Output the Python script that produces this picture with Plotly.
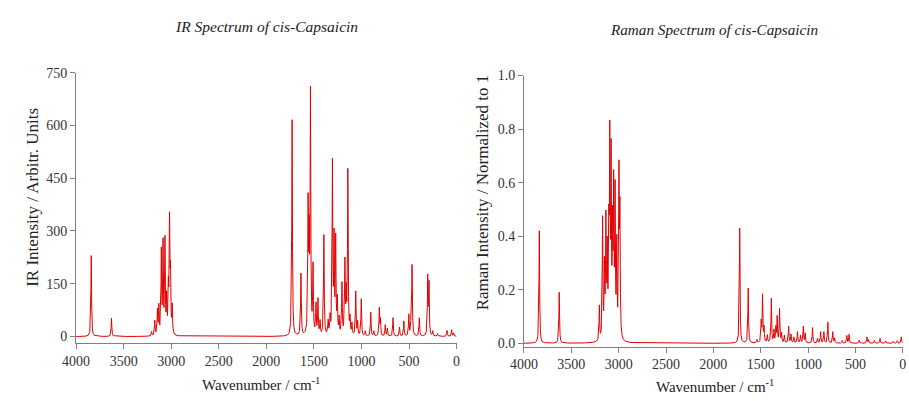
import numpy as np
import plotly.graph_objects as go

# ---- data (peak positions in cm-1, peak heights) ----
ir_pos = [3841, 3628, 3207, 3173, 3145, 3130, 3104, 3086, 3066, 3048, 3030, 3018, 3008, 2990,
          1729, 1636, 1561, 1550, 1536, 1509, 1478, 1457, 1435, 1395, 1350, 1330, 1305, 1288,
          1271, 1254, 1235, 1205, 1174, 1160, 1143, 1120, 1100, 1060, 1040, 1002, 960, 902,
          870, 812, 800, 750, 727, 668, 600, 554, 502, 480, 468, 392, 303, 290, 250, 200,
          100, 52, 30]
ir_int = [230, 52, 12, 42, 70, 80, 235, 255, 265, 100, 125, 312, 170, 78,
          615, 176, 360, 250, 678, 190, 85, 100, 38, 285, 38, 48, 485, 265,
          265, 95, 45, 145, 205, 110, 465, 45, 32, 125, 38, 105, 14, 68,
          14, 78, 45, 32, 22, 53, 26, 43, 60, 35, 200, 52, 165, 145, 14, 8,
          17, 19, 9]

raman_pos = [3838, 3628, 3204, 3170, 3150, 3135, 3121, 3105, 3094, 3080, 3065, 3053, 3038,
             3020, 2997, 2987, 1722, 1632, 1540, 1495, 1481, 1465, 1430, 1388, 1360, 1340,
             1326, 1301, 1280, 1250, 1205, 1180, 1150, 1112, 1080, 1050, 1030, 953, 900, 867,
             833, 791, 739, 720, 640, 590, 567, 460, 378, 360, 300, 240, 180, 100, 60, 15]
raman_int = [0.42, 0.19, 0.13, 0.45, 0.26, 0.43, 0.31, 0.38, 0.71, 0.65, 0.38, 0.54, 0.53,
             0.34, 0.60, 0.45, 0.43, 0.205, 0.012, 0.075, 0.175, 0.055, 0.028, 0.165, 0.045, 0.055,
             0.095, 0.125, 0.035, 0.028, 0.062, 0.032, 0.022, 0.042, 0.028, 0.062, 0.036, 0.058, 0.018, 0.042,
             0.042, 0.078, 0.042, 0.018, 0.01, 0.028, 0.033, 0.011, 0.023, 0.013, 0.011, 0.018, 0.009,
             0.007, 0.009, 0.024]

x_ticks = [4000, 3500, 3000, 2500, 2000, 1500, 1000, 500, 0]
ir_ticks = [0, 150, 300, 450, 600, 750]
raman_ticks = [0.0, 0.2, 0.4, 0.6, 0.8, 1.0]

HWHM = 4.0  # Lorentzian half-width used for broadening the stick spectrum


def broaden(pos, inten, grid):
    p = np.asarray(pos, float)[:, None]
    h = np.asarray(inten, float)[:, None]
    return (h * HWHM**2 / ((grid[None, :] - p) ** 2 + HWHM**2)).sum(axis=0)


grid = np.arange(0, 4000.01, 0.5)
ir_y = broaden(ir_pos, ir_int, grid)
raman_y = broaden(raman_pos, raman_int, grid)

RED = "#e00000"
FONT = "Liberation Serif, Times New Roman, serif"

fig = go.Figure()
fig.add_trace(go.Scatter(x=grid, y=ir_y, mode="lines", line=dict(color=RED, width=1),
                         xaxis="x", yaxis="y", showlegend=False, hoverinfo="skip"))
fig.add_trace(go.Scatter(x=grid, y=raman_y, mode="lines", line=dict(color=RED, width=1),
                         xaxis="x2", yaxis="y2", showlegend=False, hoverinfo="skip"))

W, H = 909, 401


def px_x(p):
    return p / W


def px_y(p):
    return 1 - p / H


axis_common = dict(showgrid=False, zeroline=False, showline=True, linecolor="#808080",
                   linewidth=1, ticks="outside", ticklen=5, tickcolor="#808080",
                   tickfont=dict(family=FONT, size=14, color="#333333"))

fig.update_layout(
    width=W, height=H, margin=dict(l=0, r=0, t=0, b=0),
    paper_bgcolor="white", plot_bgcolor="white",
    xaxis=dict(domain=[px_x(63.3), px_x(451)], range=[4000, 0], anchor="y",
               tickvals=x_ticks, ticktext=[str(v) for v in x_ticks], **axis_common),
    yaxis=dict(domain=[px_y(346.7), px_y(67.7)], range=[-19.3, 750], anchor="x",
               tickvals=ir_ticks, ticktext=[str(v) for v in ir_ticks], **axis_common),
    xaxis2=dict(domain=[px_x(519.7), px_x(905.7)], range=[4000, 0], anchor="y2",
                tickvals=x_ticks, ticktext=[str(v) for v in x_ticks], **axis_common),
    yaxis2=dict(domain=[px_y(350), px_y(70.7)], range=[-0.012, 1.0], anchor="x2",
                tickvals=raman_ticks, ticktext=[f"{v:.1f}" for v in raman_ticks], **axis_common),
)

ann = [
    dict(text="<i>IR Spectrum of cis-Capsaicin</i>", x=px_x(257), y=px_y(20), size=15.5),
    dict(text="<i>Raman Spectrum of cis-Capsaicin</i>", x=px_x(713), y=px_y(23), size=15.2),
    dict(text="Wavenumber / cm<sup>-1</sup>", x=px_x(252), y=px_y(389), size=15),
    dict(text="Wavenumber / cm<sup>-1</sup>", x=px_x(714), y=px_y(391), size=15),
    dict(text="IR Intensity / Arbitr. Units", x=px_x(18), y=px_y(196), size=17, angle=-90),
    dict(text="Raman Intensity / Normalized to 1", x=px_x(477), y=px_y(191), size=17, angle=-90),
]
for a in ann:
    fig.add_annotation(text=a["text"], x=a["x"], y=a["y"], xref="paper", yref="paper",
                       xanchor="center", yanchor="middle", showarrow=False,
                       textangle=a.get("angle", 0),
                       font=dict(family=FONT, size=a["size"], color="#222222"))

fig.write_html("out.html")
